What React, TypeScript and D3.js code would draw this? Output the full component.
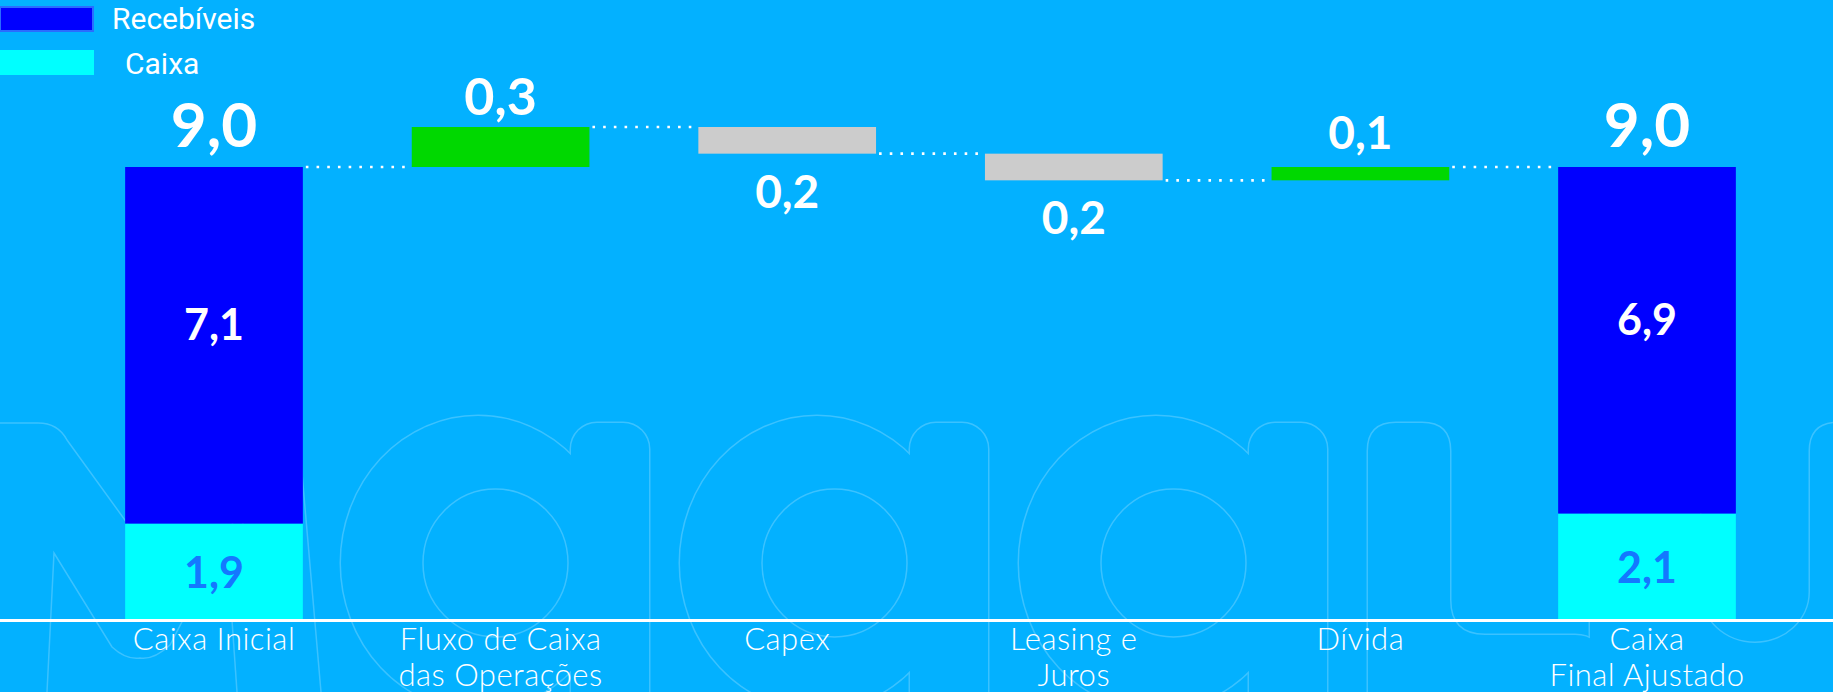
import React from "react";
import * as d3 from "d3";

// ---- data ----
const categories = [
  "Caixa Inicial",
  "Fluxo de Caixa\ndas Operações",
  "Capex",
  "Leasing e\nJuros",
  "Dívida",
  "Caixa\nFinal Ajustado",
];
// stacked totals (R$ bi)
const recebiveis = [7.1, null, null, null, null, 6.9];
const caixa = [1.9, null, null, null, null, 2.1];
// variations between the two totals
const variacoes = [null, 0.3, -0.2, -0.2, 0.1, null];

const seriesNames = ["Recebíveis", "Caixa"];

// ---- style ----
const W = 1833;
const H = 692;
const BG = "#03b1ff";
const C_RECEB = "#0000ff";
const C_CAIXA = "#00ffff";
const C_UP = "#00d800";
const C_DOWN = "#cccccc";
const C_CAIXA_LABEL = "#1478ff";
const BASE_Y = 619;
const FONT_NUM = "Lato, 'Open Sans', sans-serif";
const FONT_CAT = "Lato, 'Open Sans', sans-serif";

const fmt = d3
  .formatLocale({ decimal: ",", thousands: ".", grouping: [3], currency: ["R$ ", ""] })
  .format(".1f");

type Bar =
  | { kind: "total"; cat: string; caixa: number; receb: number; total: number }
  | { kind: "step"; cat: string; from: number; to: number; delta: number };

function buildBars(): Bar[] {
  let level = 0;
  return categories.map((cat, i) => {
    const d = variacoes[i];
    if (d == null) {
      const c = caixa[i] as number;
      const r = recebiveis[i] as number;
      level = c + r;
      return { kind: "total", cat, caixa: c, receb: r, total: level } as Bar;
    }
    const from = level;
    const to = level + d;
    level = to;
    return { kind: "step", cat, from, to, delta: d } as Bar;
  });
}

// Background logo outline: union of glyph parts, outlined by stroking then
// covering the interiors with the background colour.
function Watermark() {
  const stems = [571, 910, 1249];
  const aParts = stems.map((sL) => ({
    bowl: { cx: sL - 93, cy: 563, rx: 137, ry: 147 },
    stem: { x: sL, y: 423, w: 78, h: 420 },
    counter: { cx: sL - 75.5, cy: 563, rx: 72.5, ry: 74 },
  }));
  const lPath =
    "M1368,900 L1368,451 Q1368,423 1396,423 L1422,423 Q1450,423 1450,451 L1450,600 Q1450,635 1485,635 L1575,635 Q1600,635 1600,660 L1600,900 Z";
  const uPath =
    "M1590,900 L1590,451 Q1590,423 1618,423 L1672,423 Q1700,423 1700,451 L1700,592 A55,51 0 0 0 1810,592 L1810,451 Q1810,423 1838,423 L1862,423 Q1890,423 1890,451 L1890,900 Z";
  const mLines = [
    "M-20,423 L38,423 Q58,423 67,440 L190,610 L300,430",
    "M47,692 L54,553 L112,647 Q126,660 140,658 Q154,660 170,645 L260,470",
    "M300,450 L321,692",
    "M232,620 L237,692",
  ];
  const shapes = (stroke: boolean) => (
    <g
      fill={stroke ? "none" : BG}
      stroke={stroke ? "#ffffff" : "none"}
      strokeWidth={stroke ? 3 : 0}
    >
      {aParts.map((a, i) => (
        <g key={i}>
          <ellipse cx={a.bowl.cx} cy={a.bowl.cy} rx={a.bowl.rx} ry={a.bowl.ry} />
          <rect x={a.stem.x} y={a.stem.y} width={a.stem.w} height={a.stem.h} rx={26} />
        </g>
      ))}
      <path d={lPath} />
      <path d={uPath} />
    </g>
  );
  return (
    <g opacity={0.22}>
      {shapes(true)}
      {shapes(false)}
      <g fill="none" stroke="#ffffff" strokeWidth={1.5}>
        {aParts.map((a, i) => (
          <ellipse key={i} cx={a.counter.cx} cy={a.counter.cy} rx={a.counter.rx} ry={a.counter.ry} />
        ))}
        {mLines.map((d, i) => (
          <path key={i} d={d} />
        ))}
      </g>
    </g>
  );
}

export default function App() {
  const bars = buildBars();

  const x = d3
    .scaleBand<string>()
    .domain(categories)
    .range([70.7, 1790.3])
    .paddingInner(0.38)
    .paddingOuter(0.19);
  const bw = x.bandwidth();

  // totals are drawn from the baseline
  const yTotal = d3.scaleLinear().domain([0, 9]).range([BASE_Y, 167]);
  // variations use a magnified scale anchored at the top of the totals
  const yStep = d3.scaleLinear().domain([9, 9.3]).range([167, 127]);

  const levelY = (b: Bar) => (b.kind === "total" ? yTotal(b.total) : yStep(b.to));

  return (
    <svg
      width={W}
      height={H}
      viewBox={`0 0 ${W} ${H}`}
      style={{ position: "fixed", left: 0, top: 0, display: "block" }}
    >
      <rect x={0} y={0} width={W} height={H} fill={BG} />
      <Watermark />

      {/* dotted connectors */}
      {bars.slice(0, -1).map((b, i) => {
        const y = levelY(b);
        const x0 = (x(b.cat) as number) + bw + 3;
        const x1 = x(bars[i + 1].cat) as number;
        return (
          <line
            key={"c" + i}
            x1={x0}
            x2={x1 - 2}
            y1={y}
            y2={y}
            stroke="#ffffff"
            strokeWidth={2.6}
            strokeDasharray="2.6 8.1"
          />
        );
      })}

      {bars.map((b, i) => {
        const bx = x(b.cat) as number;
        const cx = bx + bw / 2;
        if (b.kind === "total") {
          const yC = yTotal(b.caixa);
          const yT = yTotal(b.total);
          return (
            <g key={i}>
              <rect x={bx} y={yC} width={bw} height={BASE_Y - yC} fill={C_CAIXA} />
              <rect x={bx} y={yT} width={bw} height={yC - yT} fill={C_RECEB} />
              <text
                x={cx}
                y={yT - 20}
                textAnchor="middle"
                fontFamily={FONT_NUM}
                fontWeight={700}
                fontSize={62}
                fill="#ffffff"
              >
                {fmt(b.total)}
              </text>
              <text
                x={cx}
                y={(yT + yC) / 2 - 22}
                textAnchor="middle"
                dominantBaseline="central"
                fontFamily={FONT_NUM}
                fontWeight={700}
                fontSize={43}
                fill="#ffffff"
              >
                {fmt(b.receb)}
              </text>
              <text
                x={cx}
                y={(yC + BASE_Y) / 2}
                textAnchor="middle"
                dominantBaseline="central"
                fontFamily={FONT_NUM}
                fontWeight={700}
                fontSize={43}
                fill={C_CAIXA_LABEL}
              >
                {fmt(b.caixa)}
              </text>
            </g>
          );
        }
        const y0 = yStep(Math.max(b.from, b.to));
        const y1 = yStep(Math.min(b.from, b.to));
        const up = b.delta > 0;
        const big = Math.abs(b.delta) >= 0.3;
        return (
          <g key={i}>
            <rect x={bx} y={y0} width={bw} height={y1 - y0} fill={up ? C_UP : C_DOWN} />
            <text
              x={cx}
              y={up ? y0 - (big ? 12 : 18) : y1 + 54}
              textAnchor="middle"
              fontFamily={FONT_NUM}
              fontWeight={700}
              fontSize={big ? 52 : 46}
              fill="#ffffff"
            >
              {fmt(Math.abs(b.delta))}
            </text>
          </g>
        );
      })}

      {/* baseline */}
      <line x1={0} x2={W} y1={BASE_Y + 1.5} y2={BASE_Y + 1.5} stroke="#ffffff" strokeWidth={3} />

      {/* category labels */}
      {categories.map((c) => {
        const cx = (x(c) as number) + bw / 2;
        return (
          <text
            key={c}
            textAnchor="middle"
            fontFamily={FONT_CAT}
            fontWeight={300}
            fontSize={31}
            letterSpacing={0.5}
            fill="#ffffff"
          >
            {c.split("\n").map((line, j) => (
              <tspan key={j} x={cx} y={650 + j * 36}>
                {line}
              </tspan>
            ))}
          </text>
        );
      })}

      {/* legend */}
      <rect x={0} y={7} width={93} height={24} fill={C_RECEB} stroke="#2a6cff" strokeWidth={2} />
      <text x={112} y={29} fontFamily="Roboto, sans-serif" fontSize={30} fill="#ffffff">
        {seriesNames[0]}
      </text>
      <rect x={0} y={50} width={94} height={25} fill={C_CAIXA} />
      <text x={125} y={74} fontFamily="Roboto, sans-serif" fontSize={30} fill="#ffffff">
        {seriesNames[1]}
      </text>
    </svg>
  );
}
